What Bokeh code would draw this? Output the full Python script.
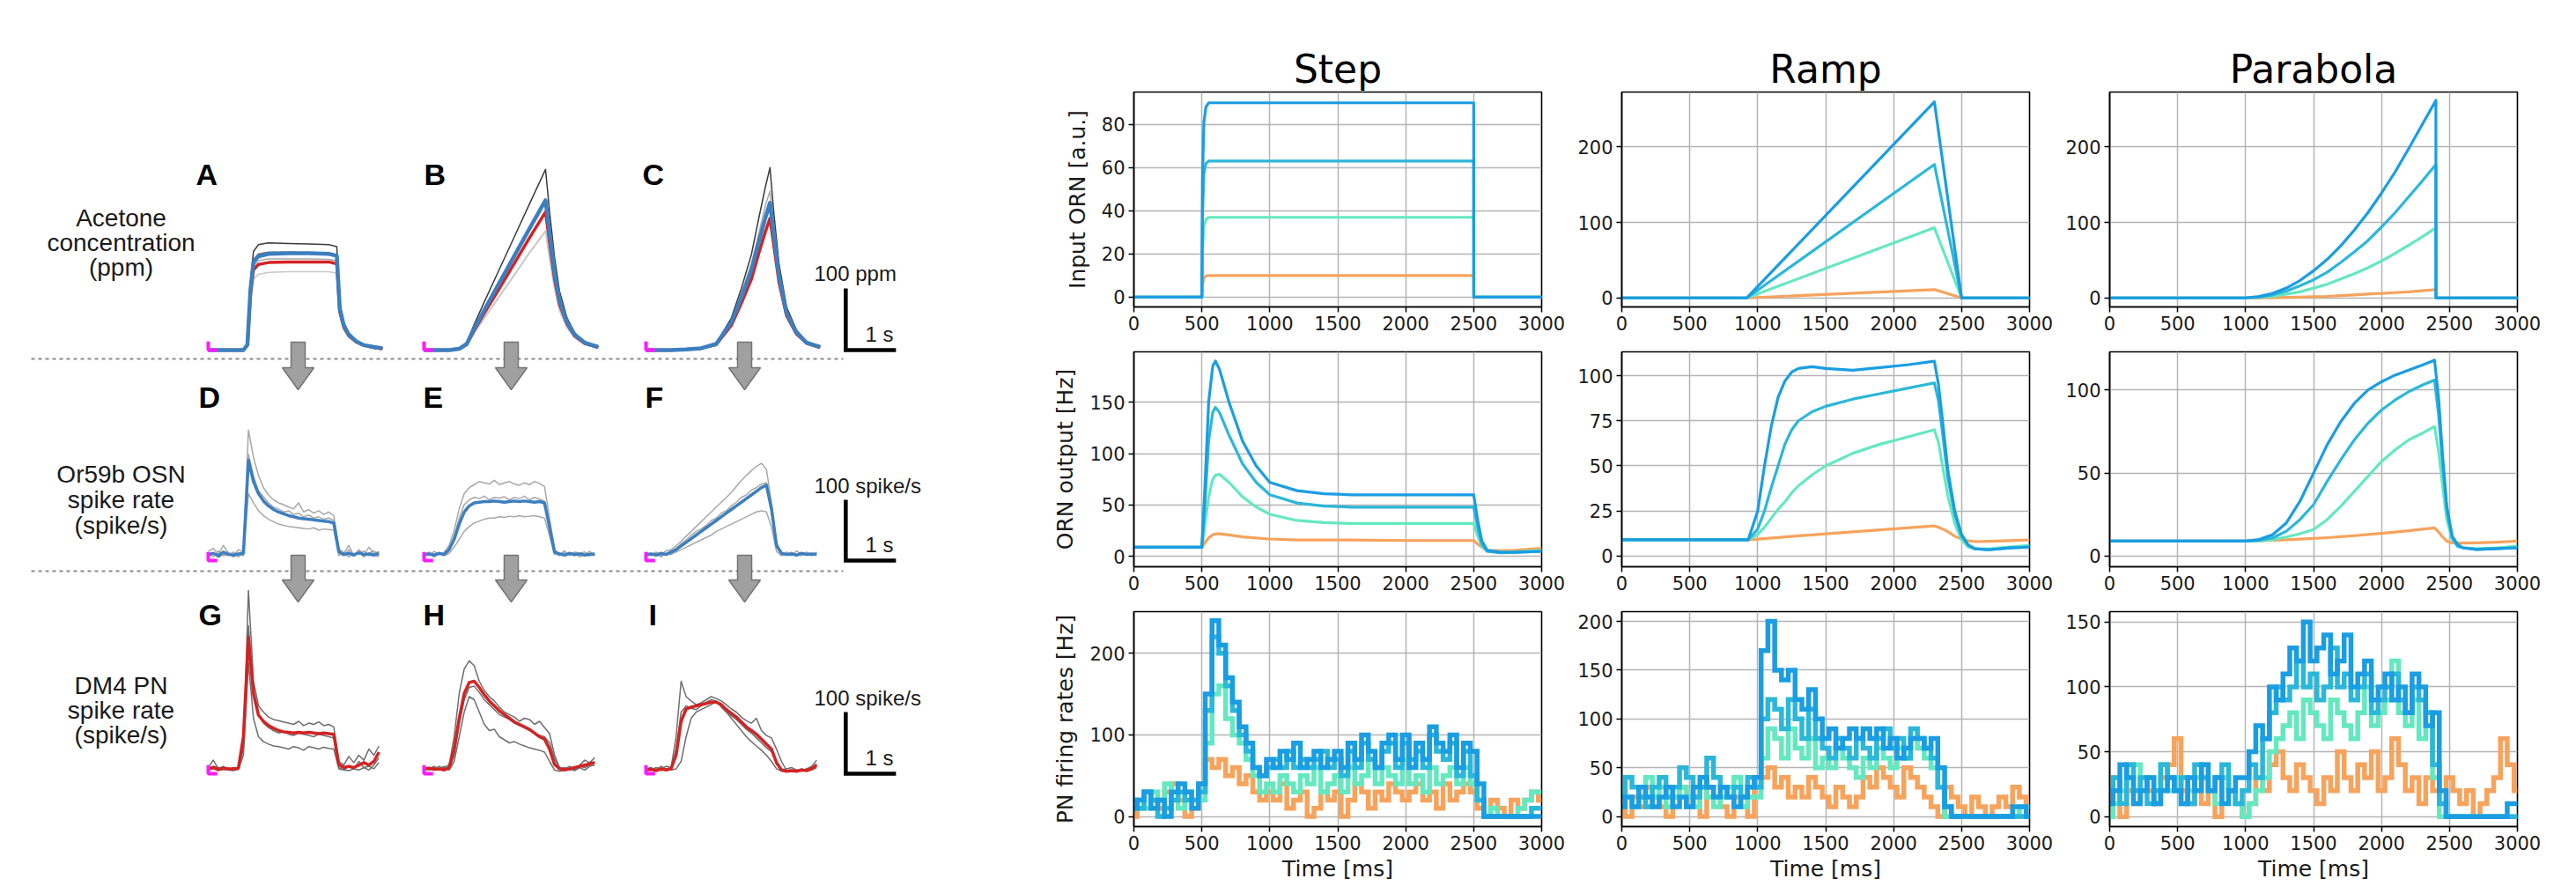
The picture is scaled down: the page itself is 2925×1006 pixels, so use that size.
from bokeh.plotting import figure
from bokeh.models import Range1d, FixedTicker
from bokeh.layouts import row, column
from bokeh.embed import file_html
from bokeh.resources import INLINE
from bokeh.core.properties import value

# ======================= LEFT: experimental traces =======================
# time bases (s)
t_A = [0, 0.7, 0.78, 0.84, 0.9, 1.0, 1.2, 1.6, 2.0, 2.4, 2.56, 2.62, 2.7, 2.8, 2.95, 3.1, 3.3, 3.47]
t_B = [0, 0.5, 0.7, 0.85, 1.0, 1.2, 1.5, 1.8, 2.1, 2.42, 2.5, 2.6, 2.7, 2.85, 3.0, 3.2, 3.47]
t_C = [0, 0.5, 0.8, 1.1, 1.4, 1.7, 1.9, 2.1, 2.25, 2.38, 2.47, 2.55, 2.65, 2.8, 3.0, 3.2, 3.47]
t_N = [0, 0.1, 0.2, 0.3, 0.4, 0.5, 0.6, 0.7, 0.8, 0.9, 1.0, 1.1, 1.2, 1.3, 1.4, 1.5, 1.6, 1.7,
       1.8, 1.9, 2.0, 2.1, 2.2, 2.3, 2.4, 2.5, 2.6, 2.7, 2.8, 2.9, 3.0, 3.1, 3.2, 3.3, 3.4]

# A: acetone step (ppm)
A_black = [0, 0, 10, 110, 160, 171, 174, 173, 172, 171, 168, 75, 45, 28, 15, 9, 5, 3]
A_dgrey = [0, 0, 9, 100, 147, 156, 159, 159, 158, 157, 154, 68, 41, 25, 14, 8, 5, 3]
A_grey = [0, 0, 8, 93, 136, 145, 148, 148, 148, 147, 145, 64, 38, 24, 13, 8, 4, 2]
A_lgrey = [0, 0, 7, 80, 115, 123, 126, 127, 127, 127, 125, 56, 33, 21, 12, 7, 4, 2]
A_red = [0, 0, 8, 90, 130, 139, 142, 143, 143, 143, 140, 62, 37, 23, 13, 8, 4, 2]
A_blue = [0, 0, 9, 98, 143, 152, 156, 157, 157, 156, 153, 67, 40, 25, 14, 8, 5, 3]
# B: acetone ramp (ppm)
B_black = [0, 0, 2, 12, 42, 78, 131, 184, 237, 293, 225, 150, 95, 52, 28, 12, 5]
B_lgrey = [0, 0, 2, 8, 28, 52, 87, 122, 158, 193, 150, 100, 64, 36, 20, 9, 4]
B_red = [0, 0, 2, 9, 32, 60, 100, 141, 182, 224, 175, 115, 74, 42, 23, 11, 4]
B_blue = [0, 0, 2, 10, 35, 65, 109, 153, 197, 243, 190, 125, 80, 45, 25, 12, 5]
# C: acetone parabola (ppm)
C_black = [0, 0, 1, 3, 11, 52, 100, 155, 215, 265, 296, 220, 140, 70, 32, 14, 5]
C_grey = [0, 0, 1, 3, 10, 48, 92, 140, 190, 235, 258, 195, 126, 63, 29, 12, 5]
C_red = [0, 0, 1, 3, 9, 40, 76, 115, 158, 192, 214, 168, 110, 56, 26, 11, 4]
C_blue = [0, 0, 1, 3, 10, 45, 85, 130, 176, 215, 239, 185, 120, 60, 28, 12, 5]
# D-F: OSN spike rate (spike/s)
D_g1 = [15, 20, 10, 25, 12, 8, 18, 14, 215, 170, 140, 120, 108, 100, 95, 92, 88, 85, 95, 80, 84, 78, 82, 76, 80, 74, 20, 12, 25, 8, 18, 10, 22, 12, 15]
D_g2 = [8, 12, 5, 10, 14, 6, 10, 8, 110, 95, 82, 74, 68, 64, 60, 58, 56, 55, 54, 53, 52, 54, 50, 52, 51, 50, 8, 14, 6, 12, 10, 16, 8, 10, 6]
D_g3 = [12, 6, 16, 8, 10, 14, 6, 12, 175, 140, 115, 105, 95, 88, 85, 80, 82, 76, 78, 72, 75, 70, 72, 68, 70, 66, 12, 8, 18, 10, 14, 6, 12, 16, 8]
D_mean = [10, 12, 8, 14, 10, 9, 11, 12, 165, 130, 110, 98, 90, 84, 80, 77, 74, 72, 70, 69, 68, 67, 66, 65, 64, 62, 15, 10, 12, 9, 13, 10, 11, 9, 12]
E_g1 = [12, 8, 15, 10, 14, 25, 50, 85, 110, 120, 125, 130, 128, 126, 132, 125, 128, 130, 126, 124, 128, 125, 130, 127, 122, 70, 18, 10, 16, 8, 14, 12, 10, 15, 9]
E_g2 = [8, 10, 6, 12, 8, 12, 22, 35, 48, 56, 62, 65, 68, 70, 70, 72, 71, 73, 72, 74, 72, 73, 74, 72, 70, 40, 10, 12, 8, 10, 12, 6, 10, 8, 12]
E_g3 = [10, 14, 8, 10, 12, 20, 40, 70, 92, 100, 104, 102, 106, 100, 104, 103, 105, 100, 104, 102, 106, 100, 104, 101, 98, 58, 12, 8, 14, 10, 8, 12, 14, 10, 8]
E_mean = [10, 11, 9, 12, 10, 18, 35, 60, 80, 90, 95, 96, 97, 97, 98, 97, 96, 97, 98, 97, 98, 97, 96, 97, 95, 55, 14, 11, 9, 12, 10, 11, 9, 10, 11]
F_g1 = [14, 8, 12, 10, 16, 18, 24, 32, 40, 48, 56, 64, 72, 80, 88, 96, 104, 112, 122, 132, 140, 148, 155, 160, 150, 95, 30, 10, 14, 8, 16, 10, 12, 9, 14]
F_g2 = [8, 12, 10, 6, 12, 10, 14, 18, 22, 26, 30, 34, 38, 42, 48, 52, 56, 60, 64, 68, 72, 76, 80, 82, 80, 55, 15, 8, 12, 10, 8, 12, 10, 8, 12]
F_g3 = [12, 10, 14, 8, 10, 16, 20, 28, 34, 42, 48, 52, 58, 66, 70, 78, 82, 90, 96, 104, 108, 116, 120, 126, 128, 90, 22, 12, 10, 14, 10, 8, 14, 10, 12]
F_mean = [10, 11, 9, 12, 10, 14, 18, 24, 30, 36, 42, 48, 54, 60, 66, 72, 78, 84, 90, 96, 102, 108, 114, 120, 124, 85, 25, 12, 10, 11, 9, 12, 10, 11, 10]
# G-I: PN spike rate (spike/s)
G_k1 = [10, 22, 8, 12, 6, 10, 8, 40, 297, 150, 110, 100, 92, 88, 86, 84, 82, 80, 85, 78, 82, 80, 84, 78, 80, 76, 20, 14, 28, 18, 30, 22, 40, 30, 45]
G_k2 = [6, 8, 5, 7, 6, 5, 7, 30, 180, 90, 60, 52, 48, 45, 44, 42, 40, 44, 42, 38, 44, 42, 40, 43, 41, 40, 8, 6, 5, 8, 6, 10, 12, 8, 18]
G_k3 = [8, 12, 10, 8, 9, 7, 10, 50, 240, 130, 95, 82, 75, 70, 66, 68, 64, 62, 66, 64, 62, 60, 64, 62, 60, 58, 10, 6, 12, 8, 20, 10, 6, 14, 26]
G_mean = [8, 10, 7, 9, 8, 8, 9, 60, 221, 130, 95, 85, 78, 74, 70, 68, 67, 66, 67, 66, 67, 66, 65, 66, 65, 64, 15, 10, 12, 10, 14, 18, 14, 20, 35]
H_k1 = [10, 8, 12, 6, 10, 14, 60, 130, 170, 183, 175, 150, 135, 125, 118, 108, 100, 96, 92, 85, 90, 88, 80, 85, 75, 65, 30, 10, 8, 12, 6, 14, 22, 18, 26]
H_k2 = [6, 10, 8, 12, 8, 6, 20, 60, 100, 125, 120, 100, 80, 70, 72, 60, 55, 50, 52, 48, 45, 42, 40, 38, 35, 20, 6, 4, 6, 8, 5, 10, 6, 12, 14]
H_k3 = [8, 6, 10, 8, 12, 8, 30, 80, 120, 140, 142, 132, 120, 112, 104, 96, 92, 88, 82, 78, 74, 70, 66, 62, 60, 50, 25, 8, 10, 6, 8, 12, 10, 14, 20]
H_mean = [8, 9, 7, 8, 6, 10, 40, 90, 130, 148, 150, 140, 128, 118, 110, 102, 96, 90, 84, 80, 76, 72, 66, 60, 56, 40, 15, 8, 6, 8, 10, 12, 14, 16, 18]
I_k1 = [8, 10, 6, 12, 8, 10, 60, 150, 125, 118, 112, 115, 120, 125, 122, 118, 112, 105, 100, 92, 86, 82, 90, 70, 62, 58, 40, 20, 5, 4, 6, 5, 8, 12, 22]
I_k2 = [5, 6, 8, 5, 7, 6, 8, 20, 60, 90, 100, 104, 108, 112, 118, 110, 100, 90, 80, 70, 60, 52, 45, 38, 30, 20, 8, 4, 5, 6, 4, 8, 5, 6, 10]
I_k3 = [8, 6, 10, 8, 12, 10, 40, 100, 110, 106, 104, 110, 116, 120, 118, 108, 100, 94, 88, 80, 72, 66, 58, 50, 42, 36, 16, 6, 8, 10, 6, 4, 8, 10, 16]
I_mean = [6, 7, 5, 8, 6, 8, 30, 85, 105, 108, 110, 112, 114, 116, 116, 112, 104, 98, 92, 84, 76, 70, 64, 56, 48, 40, 18, 6, 4, 5, 4, 6, 5, 8, 14]

panel_letters = ["A", "B", "C", "D", "E", "F", "G", "H", "I"]
row_labels = [["Acetone", "concentration", "(ppm)"],
              ["Or59b OSN", "spike rate", "(spike/s)"],
              ["DM4 PN", "spike rate", "(spike/s)"]]
scale_labels = ["100 ppm", "100 spike/s", "100 spike/s"]

# ======================= RIGHT: model simulations =======================
xticks = [0, 500, 1000, 1500, 2000, 2500, 3000]
col_titles = ["Step", "Ramp", "Parabola"]
row_ylabels = ["Input ORN [a.u.]", "ORN output [Hz]", "PN firing rates [Hz]"]

t_in_step = [0, 500, 505, 515, 530, 550, 2500, 2501, 3000]
in_step_orange = [0, 0, 6, 9, 9.8, 10, 10, 0, 0]
in_step_aqua = [0, 0, 22, 33, 36, 37, 37, 0, 0]
in_step_cyan = [0, 0, 38, 57, 62, 63, 63, 0, 0]
in_step_blue = [0, 0, 55, 81, 88, 90, 90, 0, 0]

t_in_ramp = [0, 920, 2300, 2500, 3000]
in_ramp_orange = [0, 0, 11, 0, 0]
in_ramp_aqua = [0, 0, 93, 0, 0]
in_ramp_cyan = [0, 0, 177, 0, 0]
in_ramp_blue = [0, 0, 260, 0, 0]

t_in_par = [0, 1000, 1100, 1200, 1300, 1400, 1500, 1600, 1700, 1800, 1900, 2000, 2100, 2200, 2300, 2400, 2401, 3000]
in_par_orange = [0, 0, 0, 0.3, 0.6, 1, 1.5, 2, 3, 4, 5, 6, 7, 8, 9.5, 11, 0, 0]
in_par_aqua = [0, 0, 1, 2, 5, 8, 13, 18, 25, 32, 40, 49, 59, 70, 81, 93, 0, 0]
in_par_cyan = [0, 0, 1, 4, 9, 16, 24, 34, 47, 61, 76, 94, 113, 134, 155, 177, 0, 0]
in_par_blue = [0, 0, 2, 6, 13, 23, 36, 51, 69, 90, 113, 139, 167, 198, 230, 262, 0, 0]

t_orn_step = [0, 500, 520, 550, 580, 600, 630, 700, 800, 900, 1000, 1200, 1400, 1600, 2000, 2500, 2530, 2560, 2600, 2700, 2800, 3000]
orn_step_orange = [9, 9, 13, 18, 21, 22, 22, 21, 19, 18, 17, 16, 16, 16, 15.5, 15.5, 12, 9, 6, 5.5, 6, 8]
orn_step_aqua = [9, 9, 28, 58, 75, 79, 80, 72, 58, 48, 41, 35, 33, 32, 32, 32, 20, 10, 5, 4, 4.5, 6]
orn_step_cyan = [9, 9, 45, 112, 140, 145, 140, 118, 90, 72, 60, 52, 49, 48, 48, 48, 28, 12, 5, 3.5, 4, 5]
orn_step_blue = [9, 9, 60, 150, 185, 190, 182, 150, 112, 88, 72, 64, 61, 60, 60, 60, 35, 15, 6, 4, 4, 5]

t_orn_ramp = [0, 930, 1000, 1050, 1100, 1150, 1200, 1250, 1300, 1400, 1500, 1700, 1900, 2100, 2300, 2330, 2360, 2400, 2450, 2500, 2550, 2600, 2700, 2850, 3000]
orn_ramp_orange = [9, 9, 9.4, 9.7, 10, 10.3, 10.6, 10.9, 11.2, 11.7, 12.3, 13.4, 14.5, 15.6, 16.7, 16, 15, 13.5, 11, 9.5, 8.5, 8, 8.2, 8.6, 9]
orn_ramp_aqua = [9, 9, 12, 16, 21, 26, 30, 35, 39, 45, 50, 57, 62, 66, 70, 63, 50, 33, 18, 9, 5, 4, 4, 5, 6]
orn_ramp_cyan = [9, 9, 15, 25, 38, 50, 62, 70, 75, 80, 83, 87, 90, 93, 96, 86, 68, 43, 23, 11, 6, 4, 3.5, 4.5, 5]
orn_ramp_blue = [9, 9, 25, 50, 72, 88, 97, 102, 104, 105, 104, 103, 104.5, 106, 108, 95, 75, 47, 25, 12, 6, 4, 3.5, 4.5, 5]

t_orn_par = [0, 1000, 1100, 1200, 1300, 1400, 1500, 1600, 1700, 1800, 1900, 2000, 2100, 2200, 2300, 2390, 2420, 2450, 2480, 2520, 2560, 2600, 2700, 2850, 3000]
orn_par_orange = [9, 9, 9.2, 9.5, 9.8, 10.2, 10.6, 11.1, 11.7, 12.3, 13, 13.7, 14.5, 15.3, 16.2, 17, 14.5, 11.5, 9, 8, 7.8, 7.8, 8, 8.4, 9]
orn_par_aqua = [9, 9, 9.2, 10, 11.5, 13.5, 16, 22, 30, 39, 48, 57, 64, 70, 74, 78, 63, 42, 22, 10, 6, 5, 4.5, 5, 6]
orn_par_cyan = [9, 9, 9.5, 11, 15, 22, 31, 45, 58, 70, 80, 88, 94, 99, 103, 106, 85, 55, 28, 11, 6, 5, 4, 4.5, 5]
orn_par_blue = [9, 9, 10, 13, 20, 33, 50, 67, 81, 92, 100, 105, 109, 112, 115, 118, 95, 60, 30, 12, 7, 5, 4, 4.5, 5]

t_pn = [0, 50, 100, 150, 200, 250, 300, 350, 400, 450, 500, 550, 600, 650, 700, 750, 800, 850, 900, 950,
        1000, 1050, 1100, 1150, 1200, 1250, 1300, 1350, 1400, 1450, 1500, 1550, 1600, 1650, 1700, 1750, 1800, 1850, 1900, 1950,
        2000, 2050, 2100, 2150, 2200, 2250, 2300, 2350, 2400, 2450, 2500, 2550, 2600, 2650, 2700, 2750, 2800, 2850, 2900, 2950, 3000]
pn_step_orange = [0, 10, 30, 20, 10, 30, 40, 20, 0, 10, 40, 70, 60, 70, 50, 60, 40, 50, 30, 20,
                  30, 20, 40, 10, 20, 30, 0, 10, 30, 20, 30, 0, 20, 40, 30, 10, 30, 20, 40, 30,
                  20, 30, 40, 20, 30, 10, 40, 20, 30, 40, 30, 10, 0, 20, 10, 0, 20, 10, 20, 30, 20]
pn_step_aqua = [10, 20, 10, 30, 20, 40, 20, 10, 30, 20, 20, 90, 150, 160, 120, 100, 90, 70, 50, 30,
                40, 30, 50, 40, 30, 50, 40, 60, 30, 40, 50, 30, 60, 40, 50, 70, 40, 60, 50, 40,
                70, 40, 50, 30, 60, 40, 50, 60, 40, 60, 40, 20, 0, 10, 0, 0, 0, 10, 20, 30, 30]
pn_step_cyan = [20, 10, 30, 20, 0, 10, 20, 30, 20, 20, 30, 130, 220, 200, 160, 130, 100, 80, 60, 50,
                60, 70, 60, 80, 60, 70, 60, 70, 80, 60, 70, 50, 80, 60, 90, 70, 60, 80, 90, 60,
                90, 70, 80, 60, 100, 80, 70, 90, 50, 80, 50, 20, 0, 0, 0, 0, 0, 0, 0, 10, 10]
pn_step_blue = [10, 20, 30, 10, 20, 0, 30, 40, 30, 10, 40, 150, 240, 210, 170, 140, 110, 90, 60, 50,
                70, 60, 80, 70, 90, 60, 70, 80, 60, 70, 80, 60, 90, 70, 100, 80, 60, 90, 100, 70,
                100, 60, 90, 70, 110, 90, 80, 100, 60, 90, 80, 40, 0, 0, 0, 0, 0, 0, 0, 0, 0]
pn_ramp_orange = [10, 0, 20, 10, 30, 20, 10, 0, 20, 30, 10, 20, 0, 30, 20, 10, 0, 20, 10, 0,
                  30, 40, 50, 30, 40, 20, 30, 20, 40, 30, 20, 10, 30, 20, 10, 20, 40, 30, 50, 40,
                  30, 20, 50, 40, 30, 20, 10, 0, 30, 20, 10, 0, 20, 10, 0, 10, 20, 10, 30, 20, 10]
pn_ramp_aqua = [30, 20, 10, 20, 40, 20, 30, 10, 20, 30, 20, 10, 30, 20, 10, 20, 30, 40, 10, 20,
                20, 60, 90, 80, 60, 90, 70, 60, 80, 50, 60, 50, 70, 60, 50, 40, 60, 50, 70, 60,
                50, 70, 60, 80, 70, 60, 50, 30, 0, 0, 0, 0, 0, 0, 0, 0, 0, 0, 0, 10, 10]
pn_ramp_cyan = [20, 40, 30, 20, 10, 30, 40, 20, 30, 50, 40, 20, 30, 60, 40, 30, 20, 30, 20, 40,
                30, 100, 120, 110, 90, 120, 100, 80, 110, 80, 70, 60, 80, 70, 60, 80, 70, 60, 80, 90,
                70, 80, 60, 90, 80, 70, 60, 30, 10, 0, 0, 0, 0, 0, 0, 0, 0, 0, 0, 0, 0]
pn_ramp_blue = [10, 20, 10, 30, 20, 10, 20, 30, 10, 20, 10, 30, 40, 30, 20, 30, 20, 10, 20, 30,
                40, 170, 200, 150, 140, 150, 120, 110, 130, 100, 80, 90, 70, 80, 90, 80, 90, 80, 90, 70,
                80, 60, 70, 80, 80, 70, 80, 50, 10, 0, 0, 0, 0, 0, 0, 0, 0, 0, 10, 10, 0]
pn_par_orange = [10, 30, 0, 20, 10, 30, 20, 10, 30, 40, 60, 20, 10, 30, 10, 20, 0, 30, 20, 10,
                 0, 10, 30, 20, 40, 50, 30, 20, 40, 30, 20, 10, 30, 20, 50, 30, 20, 40, 30, 50,
                 20, 30, 60, 40, 20, 30, 10, 30, 20, 10, 30, 20, 10, 20, 0, 10, 20, 30, 60, 40, 20]
pn_par_aqua = [0, 10, 20, 30, 40, 20, 30, 10, 40, 20, 30, 10, 20, 30, 40, 20, 10, 30, 20, 10,
               0, 10, 20, 30, 50, 60, 70, 80, 60, 90, 80, 70, 60, 90, 80, 70, 60, 80, 100, 70,
               80, 90, 120, 80, 70, 90, 60, 80, 30, 0, 0, 0, 0, 0, 0, 0, 0, 0, 0, 0, 0]
pn_par_cyan = [20, 30, 10, 40, 20, 30, 10, 20, 40, 30, 20, 30, 10, 40, 30, 20, 30, 40, 20, 10,
               20, 40, 30, 60, 80, 100, 90, 100, 120, 100, 110, 90, 100, 130, 100, 110, 90, 100, 110, 80,
               90, 100, 110, 90, 80, 100, 90, 80, 40, 10, 0, 0, 0, 0, 0, 0, 0, 0, 0, 0, 0]
pn_par_blue = [10, 20, 40, 30, 10, 20, 30, 10, 20, 30, 20, 10, 30, 20, 40, 20, 30, 10, 20, 30,
               30, 50, 70, 60, 100, 90, 110, 130, 120, 150, 120, 130, 140, 110, 120, 140, 100, 110, 120, 90,
               100, 110, 90, 100, 80, 110, 100, 70, 80, 20, 0, 0, 0, 0, 0, 0, 0, 0, 0, 10, 10]

# ---------------- styles ----------------
C_OR, C_AQ, C_CY, C_BL = "#F7A35C", "#64E8C0", "#2BB7D9", "#1A9DE2"
K_BLACK, K_DGREY, K_GREY, K_LGREY = "#3a3a3a", "#6e6e6e", "#a8a8a8", "#c8c8c8"
K_RED, K_BLUE = "#d42222", "#3c7fc0"

# ======================= build LEFT figure =======================
LW, LH = 1150, 1006
left = figure(width=LW, height=LH, x_range=Range1d(0, LW), y_range=Range1d(LH, 0),
              output_backend="svg", toolbar_location=None,
              x_axis_location=None, y_axis_location=None, min_border=0)
left.outline_line_color = None
left.xgrid.visible = False
left.ygrid.visible = False

PX_PER_S = 57.0
col_x0 = [236, 481, 733]
row_y0 = [397, 636, 878]
row_sy = [0.70, 0.69, 0.70]
left.extra_x_ranges = {f"c{j}": Range1d(-x0 / PX_PER_S, (LW - x0) / PX_PER_S) for j, x0 in enumerate(col_x0)}
left.extra_y_ranges = {f"r{i}": Range1d((y0 - LH) / sy, y0 / sy) for i, (y0, sy) in enumerate(zip(row_y0, row_sy))}

# dotted separators
for yy in [407, 648]:
    left.line([35, 957], [yy, yy], line_color="#8a8a8a", line_width=2, line_dash="4 4")

panels = [
    (0, 0, t_A, [(A_lgrey, K_LGREY, 1.5), (A_grey, K_GREY, 1.5), (A_dgrey, K_DGREY, 1.5), (A_black, K_BLACK, 1.5), (A_red, K_RED, 3.5), (A_blue, K_BLUE, 4.5)]),
    (0, 1, t_B, [(B_lgrey, K_LGREY, 2), (B_black, K_BLACK, 1.5), (B_red, K_RED, 3.5), (B_blue, K_BLUE, 4.5)]),
    (0, 2, t_C, [(C_grey, K_GREY, 1.5), (C_black, K_BLACK, 1.5), (C_red, K_RED, 3.5), (C_blue, K_BLUE, 4.5)]),
    (1, 0, t_N, [(D_g1, K_GREY, 1.5), (D_g2, K_GREY, 1.5), (D_g3, K_GREY, 1.5), (D_mean, K_BLUE, 3.5)]),
    (1, 1, t_N, [(E_g1, K_GREY, 1.5), (E_g2, K_GREY, 1.5), (E_g3, K_GREY, 1.5), (E_mean, K_BLUE, 3.5)]),
    (1, 2, t_N, [(F_g1, K_GREY, 1.5), (F_g2, K_GREY, 1.5), (F_g3, K_GREY, 1.5), (F_mean, K_BLUE, 3.5)]),
    (2, 0, t_N, [(G_k1, K_DGREY, 1.5), (G_k2, K_DGREY, 1.5), (G_k3, K_DGREY, 1.5), (G_mean, K_RED, 3.5)]),
    (2, 1, t_N, [(H_k1, K_DGREY, 1.5), (H_k2, K_DGREY, 1.5), (H_k3, K_DGREY, 1.5), (H_mean, K_RED, 3.5)]),
    (2, 2, t_N, [(I_k1, K_DGREY, 1.5), (I_k2, K_DGREY, 1.5), (I_k3, K_DGREY, 1.5), (I_mean, K_RED, 3.5)]),
]
for (ri, cj, tt, traces) in panels:
    for vals, col, lw in traces:
        left.line(tt, vals, x_range_name=f"c{cj}", y_range_name=f"r{ri}",
                  line_color=col, line_width=lw, line_join="round")
    # magenta stimulus marker
    left.line([0, 0, 0.18], [14, 0, 0], x_range_name=f"c{cj}", y_range_name=f"r{ri}",
              line_color="#ff1aff", line_width=4)

# scale bars (100 units x 1 s), drawn in the third column's data units
BAR_T = 3.98
for ri in range(3):
    left.line([BAR_T, BAR_T, BAR_T + 1.0], [100, 0, 0], x_range_name="c2", y_range_name=f"r{ri}",
              line_color="black", line_width=4.5, line_join="miter")

# block arrows between rows
arrow_cx = [338, 580, 845]
arrow_rows = [(388, 442), (630, 683)]
axs, ays = [], []
for (top, tip) in arrow_rows:
    hs = tip - 25
    for cx in arrow_cx:
        axs.append([cx - 8, cx + 8, cx + 8, cx + 18, cx, cx - 18, cx - 8])
        ays.append([top, top, hs, hs, tip, hs, hs])
left.patches(axs, ays, fill_color="#a0a0a0", line_color="#747474", line_width=1.5)

# texts
FONT = value("Liberation Sans")
letter_x = [222, 481, 729, 225, 480, 732, 225, 480, 736]
letter_y = [197, 197, 197, 450, 450, 450, 697, 697, 697]
left.text(letter_x, letter_y, text=panel_letters, text_font=FONT, text_font_size="34px",
          text_font_style="bold", text_align="left", text_baseline="middle", text_color="black")
lab_y = [[247, 275, 303], [538, 567, 596], [778, 806, 834]]
for lines, ys in zip(row_labels, lab_y):
    left.text([137] * 3, ys, text=lines, text_font=FONT, text_font_size="28px",
              text_align="center", text_baseline="middle", text_color="#1a1a1a")
sb_text_y = [310, 551, 792]
left.text([924] * 3, sb_text_y, text=scale_labels, text_font=FONT, text_font_size="24px",
          text_align="left", text_baseline="middle", text_color="#1a1a1a")
left.text([982] * 3, [y0 - 18 for y0 in row_y0], text=["1 s"] * 3, text_font=FONT, text_font_size="24px",
          text_align="left", text_baseline="middle", text_color="#1a1a1a")

# ======================= build RIGHT grid =======================
col_w = [630, 554, 591]
col_ml = [137, 61, 61]
col_mr = [30, 30, 67]
row_h = [385, 295, 326]
row_mt = [104, 14, 14]
row_mb = [37, 37, 68]

yranges = [[(-4.5, 95), (-12, 273), (-12, 273)],
           [(-10, 199), (-5.9, 113.2), (-6.4, 123)],
           [(-12.3, 251), (-10.3, 210), (-7.7, 158)]]
yticks = [[[0, 20, 40, 60, 80], [0, 100, 200], [0, 100, 200]],
          [[0, 50, 100, 150], [0, 25, 50, 75, 100], [0, 50, 100]],
          [[0, 100, 200], [0, 50, 100, 150, 200], [0, 50, 100, 150]]]

series = [
    [(t_in_step, [in_step_orange, in_step_aqua, in_step_cyan, in_step_blue]),
     (t_in_ramp, [in_ramp_orange, in_ramp_aqua, in_ramp_cyan, in_ramp_blue]),
     (t_in_par, [in_par_orange, in_par_aqua, in_par_cyan, in_par_blue])],
    [(t_orn_step, [orn_step_orange, orn_step_aqua, orn_step_cyan, orn_step_blue]),
     (t_orn_ramp, [orn_ramp_orange, orn_ramp_aqua, orn_ramp_cyan, orn_ramp_blue]),
     (t_orn_par, [orn_par_orange, orn_par_aqua, orn_par_cyan, orn_par_blue])],
    [(t_pn, [pn_step_orange, pn_step_aqua, pn_step_cyan, pn_step_blue]),
     (t_pn, [pn_ramp_orange, pn_ramp_aqua, pn_ramp_cyan, pn_ramp_blue]),
     (t_pn, [pn_par_orange, pn_par_aqua, pn_par_cyan, pn_par_blue])],
]
colors = [C_OR, C_AQ, C_CY, C_BL]
MPL_FONT = "DejaVu Sans"

rows = []
for i in range(3):
    figs = []
    for j in range(3):
        p = figure(width=col_w[j], height=row_h[i],
                   x_range=Range1d(0, 3000), y_range=Range1d(*yranges[i][j]),
                   output_backend="svg", toolbar_location=None,
                   min_border_left=col_ml[j], min_border_right=col_mr[j],
                   min_border_top=row_mt[i], min_border_bottom=row_mb[i],
                   title=col_titles[j] if i == 0 else None)
        p.background_fill_color = "white"
        p.border_fill_color = "white"
        p.outline_line_color = "black"
        p.outline_line_width = 1.6
        p.outline_line_alpha = 1.0
        if i == 0:
            p.title.text_font = MPL_FONT
            p.title.text_font_size = "44px"
            p.title.text_font_style = "normal"
            p.title.align = "center"
            p.title.text_color = "black"
            p.title.standoff = 2
        p.xaxis.ticker = FixedTicker(ticks=xticks)
        p.yaxis.ticker = FixedTicker(ticks=yticks[i][j])
        p.xgrid.ticker = FixedTicker(ticks=xticks)
        p.ygrid.ticker = FixedTicker(ticks=yticks[i][j])
        p.grid.grid_line_color = "#b4b4b4"
        p.grid.grid_line_width = 1.5
        for ax in (p.xaxis[0], p.yaxis[0]):
            ax.major_label_text_font = MPL_FONT
            ax.major_label_text_font_size = "21px"
            ax.major_label_text_color = "#1a1a1a"
            ax.axis_line_width = 1.6
            ax.major_tick_line_width = 1.5
            ax.major_tick_out = 6
            ax.major_tick_in = 0
            ax.minor_tick_line_color = None
            ax.major_label_standoff = 4
            ax.axis_label_text_font = MPL_FONT
            ax.axis_label_text_font_size = "25px"
            ax.axis_label_text_font_style = "normal"
            ax.axis_label_text_color = "#1a1a1a"
        if j == 0:
            p.yaxis.axis_label = row_ylabels[i]
            p.yaxis.axis_label_standoff = 10
        if i == 2:
            p.xaxis.axis_label = "Time [ms]"
            p.xaxis.axis_label_standoff = 4
        tt, vals_list = series[i][j]
        for vals, col in zip(vals_list, colors):
            if i == 2:
                p.step(tt, vals, mode="center", line_color=col, line_width=5.5, line_join="miter")
            else:
                p.line(tt, vals, line_color=col, line_width=3.2, line_join="round")
        figs.append(p)
    rows.append(row(*figs))

layout = row(left, column(*rows))

open("out.html", "w").write(file_html(layout, INLINE))
